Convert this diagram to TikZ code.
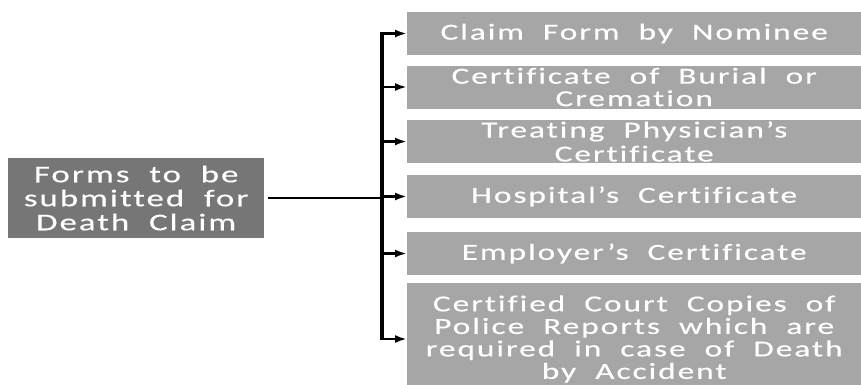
\documentclass[tikz,border=0pt]{standalone}
\usepackage{fontspec}
\setmainfont{Carlito}[FakeStretch=1.45,LetterSpace=8.5,WordSpace=2,Ligatures=CommonOff,FakeBold=0.3]
\definecolor{leftgray}{RGB}{118,118,118}
\definecolor{formgray}{RGB}{166,166,166}
\usetikzlibrary{positioning,arrows.meta}

\begin{document}
\begin{tikzpicture}[x=1pt,y=-1pt,
    form/.style={fill=formgray,text=white,anchor=west,align=center,inner sep=0pt,
      minimum width=454pt,minimum height=43pt,font=\fontsize{23}{22.5}\selectfont},
    conn/.style={-{Latex[length=12pt,width=8pt]},line width=2.5pt}]
      \useasboundingbox (0,0) rectangle (861,384);

      \draw (8,198) node[anchor=west,fill=leftgray,text=white,align=center,
        minimum width=256pt,minimum height=80pt,inner sep=0pt,
        font=\fontsize{24}{24}\selectfont] (F) {Forms to be\\submitted for\\Death Claim};

      \draw (407,33.5) node[form] (C1) {Claim Form by Nominee};
      \draw (407,87) node[form] (C2) {Certificate of Burial or\\Cremation};
      \draw (407,141.5) node[form,font=\fontsize{23}{24}\selectfont] (C3) {Treating Physician’s\\Certificate};
      \draw (407,196.5) node[form] (C4) {Hospital’s Certificate};
      \draw (407,253.5) node[form] (C5) {Employer’s Certificate};
      \draw (407,339) node[form,minimum height=112pt] (C6)
        {Certified Court Copies of\\Police Reports which are\\required in case of Death\\by Accident};

      \coordinate (T) at (382,198);

      \draw[line width=2.5pt,shorten <=4pt] (F) -- (F -| T);
      \draw[line width=3.5pt] ([yshift=1.2pt]C1 -| T) -- ([yshift=-1.2pt]C6 -| T);
      \foreach \c in {C1,C2,C3,C4,C5,C6}
        \draw[conn] (\c -| T) -- (\c.west);
    \end{tikzpicture}
\end{document}
